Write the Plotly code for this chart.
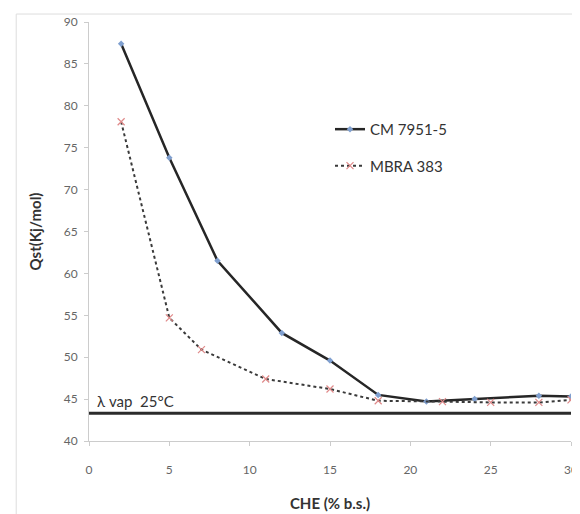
import plotly.graph_objects as go

cm_x = [2, 5, 8, 12, 15, 18, 21, 24, 28, 30]
cm_y = [87.4, 73.8, 61.5, 52.9, 49.6, 45.5, 44.7, 45.0, 45.4, 45.3]
mb_x = [2, 5, 7, 11, 15, 18, 22, 25, 28, 30]
mb_y = [78.1, 54.7, 50.9, 47.4, 46.2, 44.8, 44.7, 44.6, 44.6, 44.9]
lambda_vap = 43.3
x_ticks = [0, 5, 10, 15, 20, 25, 30]
y_ticks = [40, 45, 50, 55, 60, 65, 70, 75, 80, 85, 90]

fig = go.Figure()
fig.add_trace(go.Scatter(x=[0, 30], y=[lambda_vap, lambda_vap], mode="lines",
                         line=dict(color="#2b2b2b", width=3), showlegend=False, hoverinfo="skip"))
fig.add_trace(go.Scatter(x=cm_x, y=cm_y, mode="lines+markers", name="CM 7951-5",
                         legendgroup="a",
                         line=dict(color="#262626", width=2.5),
                         marker=dict(symbol="diamond", size=5, color="#7f9fcf")))
fig.add_trace(go.Scatter(x=mb_x, y=mb_y, mode="lines+markers", name="MBRA 383",
                         legendgroup="b",
                         line=dict(color="#3a3a3a", width=2, dash="dot"),
                         marker=dict(symbol="x-thin-open", size=7, color="#e08a8a",
                                     line=dict(width=1.2, color="#e08a8a"))))

fig.add_annotation(x=0.4, y=lambda_vap, text="λ vap  25°C", showarrow=False,
                   xanchor="left", yanchor="bottom", yshift=1,
                   font=dict(size=15, color="#333333"))

fig.add_shape(type="rect", xref="paper", yref="paper", x0=-0.151, x1=1.0145, y0=-0.2, y1=1.019,
              line=dict(color="#dddddd", width=1), fillcolor="rgba(0,0,0,0)", layer="below")

fig.update_layout(
    width=572, height=506,
    margin=dict(l=81, r=9, t=14, b=73),
    paper_bgcolor="white", plot_bgcolor="white",
    font=dict(family="Lato, Open Sans, sans-serif", color="#555555", size=12),
    legend=dict(x=0.5, y=0.783, xanchor="left", yanchor="top",
                font=dict(size=15, color="#333333"), bgcolor="rgba(0,0,0,0)",
                tracegroupgap=14),
    xaxis=dict(range=[0, 30], tickvals=x_ticks, showgrid=False, zeroline=False,
               automargin=False,
               showline=True, linecolor="#cccccc", linewidth=1,
               ticks="outside", tickcolor="#cccccc", ticklen=4, ticklabelstandoff=14,
               title=dict(text="<b>CHE (% b.s.)</b>", font=dict(size=15, color="#333333"), standoff=22),
               tickfont=dict(size=12, color="#666666")),
    yaxis=dict(range=[40, 90], tickvals=y_ticks, showgrid=False, zeroline=False,
               automargin=False,
               showline=True, linecolor="#cccccc", linewidth=1,
               ticks="outside", tickcolor="#cccccc", ticklen=4, ticklabelstandoff=4,
               title=dict(text="<b>Qst(Kj/mol)</b>", font=dict(size=15, color="#333333"), standoff=18),
               tickfont=dict(size=12, color="#666666")),
)

fig.write_html("out.html")
